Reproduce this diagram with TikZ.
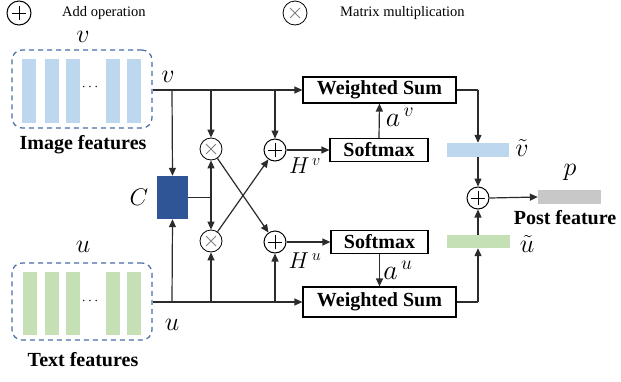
\RequirePackage{fix-cm}
\documentclass[tikz,border=0pt]{standalone}
\usepackage{fontspec}
\setmainfont{Liberation Serif}
\usetikzlibrary{arrows.meta}
\definecolor{lnc}{HTML}{2B2B2B}
\definecolor{grpc}{HTML}{4A6DA7}
\definecolor{barv}{HTML}{BDD7EE}
\definecolor{baru}{HTML}{C5E0B4}
\definecolor{barp}{HTML}{C8C8C8}
\definecolor{cbox}{HTML}{2F5597}
\tikzset{
 ln/.style={draw=lnc, line width=1.2pt},
 arr/.style={ln, -{Triangle[length=8pt,width=7pt]}},
 addop/.style={circle, draw=black, line width=1pt, minimum size=22pt, inner sep=0pt,
   path picture={\draw[line width=1pt] (path picture bounding box.center) +(-7pt,0) -- +(7pt,0) +(0,-7pt) -- +(0,7pt);}},
 mulop/.style={circle, draw=black, line width=0.8pt, minimum size=22pt, inner sep=0pt,
   path picture={\draw[line width=0.8pt, gray] (path picture bounding box.center) +(-5pt,-5pt) -- +(5pt,5pt) +(-5pt,5pt) -- +(5pt,-5pt);}},
 opbox/.style={draw=black, line width=1.2pt, inner sep=0pt, font=\fontsize{20}{24}\selectfont\bfseries},
 barnode/.style={inner sep=0pt, draw=none},
 blab/.style={inner sep=0pt, font=\fontsize{20}{24}\selectfont\bfseries},
 mlab/.style={inner sep=0pt, font=\fontsize{26}{30}\selectfont},
 leg/.style={font=\fontsize{14.5}{16}\selectfont, anchor=west, inner sep=0pt},
 grp/.style={draw=grpc, dash pattern=on 5pt off 4pt, line width=1.2pt, rounded corners=10pt, inner sep=0pt},
}
\begin{document}
\begin{tikzpicture}[x=1pt,y=-1pt]
\useasboundingbox (0,0) rectangle (621,381);
% legend
\node[addop, minimum size=24pt] (legadd) at (19,13) {};
\node[leg] (legaddt) at (62,13) {Add operation};
\node[mulop, minimum size=24pt] (legmul) at (295,13) {};
\node[leg] (legmult) at (340,13) {Matrix multiplication};

% image features group
\node[grp, minimum width=140pt, minimum height=78pt] (imgbox) at (82,89) {};
\foreach \x [count=\i] in {29,52,73,113,134}
  \node[barnode, fill=barv, minimum width=14pt, minimum height=64pt] (iv\i) at (\x,90.5) {};
\node[inner sep=0pt, font=\fontsize{14}{16}\selectfont] (idots) at (90,87) {$\cdots$};
\node[mlab] (vtop) at (83,37) {$v$};
\node[blab] (imgt) at (83,145) {Image features};

% text features group
\node[grp, minimum width=140pt, minimum height=77pt] (txtbox) at (82,301.5) {};
\foreach \x [count=\i] in {30,52,73,113,134}
  \node[barnode, fill=baru, minimum width=14pt, minimum height=63pt] (tu\i) at (\x,303.5) {};
\node[inner sep=0pt, font=\fontsize{14}{16}\selectfont] (tdots) at (90,301) {$\cdots$};
\node[mlab] (utop) at (83,247) {$u$};
\node[blab] (txtt) at (83,360) {Text features};

% C box
\node[draw=none, fill=cbox, minimum width=31pt, minimum height=43pt, inner sep=0pt] (C) at (172.5,197.5) {};
\node[mlab, font=\fontsize{24}{28}\selectfont] (Clab) at (139,197) {$C$};

% operators
\node[mulop] (mt) at (211,149) {};
\node[mulop] (mb) at (211,241) {};
\node[addop] (at) at (275,150) {};
\node[addop] (ab) at (275,242) {};

% boxes
\node[opbox, minimum width=153pt, minimum height=26pt] (wsv) at (379.5,90) {Weighted Sum};
\node[opbox, minimum width=98pt, minimum height=23pt] (smv) at (379,150) {Softmax};
\node[opbox, minimum width=97pt, minimum height=23pt] (smu) at (379.5,242) {Softmax};
\node[opbox, minimum width=153pt, minimum height=30pt] (wsu) at (379.5,302) {Weighted Sum};

% tilde bars
\node[barnode, fill=barv, minimum width=62pt, minimum height=14pt] (vt) at (478,150) {};
\node[barnode, fill=baru, minimum width=63pt, minimum height=13pt] (ut) at (478,241.5) {};
\node[addop] (af) at (478,198) {};
\node[barnode, fill=barp, minimum width=63pt, minimum height=14pt] (pb) at (569.5,197) {};

% math labels
\node[mlab] (vline) at (168,77) {$v$};
\node[mlab] (uline) at (172,325) {$u$};
\node[mlab, font=\fontsize{23}{26}\selectfont] (Hv) at (305,166) {$H^{\,v}$};
\node[mlab, font=\fontsize{23}{26}\selectfont] (Hu) at (305,261) {$H^{\,u}$};
\node[mlab, font=\fontsize{28}{32}\selectfont] (av) at (400,117) {$a^{\,v}$};
\node[mlab, font=\fontsize{28}{32}\selectfont] (au) at (398,270) {$a^{\,u}$};
\node[mlab] (vtl) at (522,148) {$\tilde v$};
\node[mlab] (utl) at (527,244) {$\tilde u$};
\node[mlab] (plab) at (570,172) {$p$};
\node[blab] (postt) at (565,218) {Post feature};

% coordinates
\coordinate (vs) at (imgbox.east |- 0,90);
\coordinate (v1) at (172,90);
\coordinate (v2) at (211,90);
\coordinate (v3) at (275,90);
\coordinate (us) at (txtbox.east |- 0,302);
\coordinate (u1) at (172,302);
\coordinate (u2) at (211,302);
\coordinate (u3) at (275,302);
\coordinate (cj) at (211,197.5);
\coordinate (wvc) at (478,90);
\coordinate (wuc) at (478,302);

% connectors
\draw[arr] (vs) -- (wsv.west);
\draw[arr] (v1) -- (C.north);
\draw[arr] (v2) -- (mt.north);
\draw[arr] (v3) -- (at.north);
\draw[arr] (us) -- (wsu.west);
\draw[arr] (u1) -- (C.south);
\draw[arr] (u2) -- (mb.south);
\draw[arr] (u3) -- (ab.south);
\draw[ln] (C.east |- cj) -- (cj);
\draw[arr] (cj) -- (mt.south);
\draw[arr] (cj) -- (mb.north);
\draw[arr] (mt) -- (ab);
\draw[arr] (mb) -- (at);
\draw[arr] (at.east) -- (smv.west);
\draw[arr] (ab.east) -- (smu.west);
\draw[arr] (smv.north) -- (wsv.south);
\draw[arr] (smu.south) -- (wsu.north);
\draw[ln] (wsv.east) -- (wvc);
\draw[arr] (wvc) -- (vt.north);
\draw[ln] (wsu.east) -- (wuc);
\draw[arr] (wuc) -- (ut.south);
\draw[arr] (vt.south) -- (af.north);
\draw[arr] (ut.north) -- (af.south);
\draw[arr] (af.east) -- (pb.west);
\end{tikzpicture}
\end{document}
